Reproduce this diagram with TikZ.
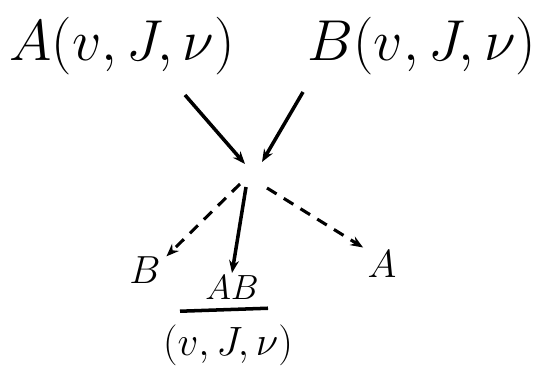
\documentclass[tikz,border=0pt]{standalone}
\usepackage{amsmath,amssymb}
\usepackage{graphicx}
\usepackage{tikz}
\usetikzlibrary{arrows.meta,positioning,calc}

\newcommand{\bigtxt}[1]{\scalebox{1.65}{\Huge$#1$}}
\newcommand{\smalltxt}[1]{\scalebox{1.12}{\Huge$#1$}}

\begin{document}
\begin{tikzpicture}[x=0.25mm, y=-0.25mm, >={Stealth[length=9pt,width=7pt]},
  lbl/.style={inner sep=0pt},
  arr/.style={->, line width=2.5pt},
  darr/.style={->, line width=2.2pt, dash pattern=on 8pt off 6pt}]
\useasboundingbox (0,0) rectangle (544,376);
\node[lbl] (A) at (122,46) {\bigtxt{A(v,J,\nu)}};
\node[lbl] (B) at (422,46) {\bigtxt{B(v,J,\nu)}};
\coordinate (j) at (253,174);
\coordinate (a1) at (185,95);
\coordinate (b1) at (303,92);
\node[lbl] (outB) at (145,270) {\smalltxt{B}};
\node[lbl] (outA) at (382,264) {\smalltxt{A}};
\node[lbl] (AB) at (232,288) {\scalebox{1.0}{\Huge$AB$}};
\node[lbl] (st) at (228,345) {\scalebox{1.17}{\Huge$(v,J,\nu)$}};
% incoming
\draw[arr] (a1) -- ($(j)+(-8,-10)$);
\draw[arr] (b1) -- ($(j)+(9,-12)$);
% outgoing
\draw[darr] ($(j)+(-13,10)$) -- ([xshift=4pt]outB.north east);
\draw[arr] ($(j)+(-7,13)$) -- ([yshift=2pt]AB.north);
\draw[darr] ($(j)+(14,14)$) -- ([xshift=-3pt,yshift=2pt]outA.north west);
\draw[line width=2.5pt] ($(AB.south)+(-52,11)$) -- ($(AB.south)+(36,8)$);
\end{tikzpicture}
\end{document}
